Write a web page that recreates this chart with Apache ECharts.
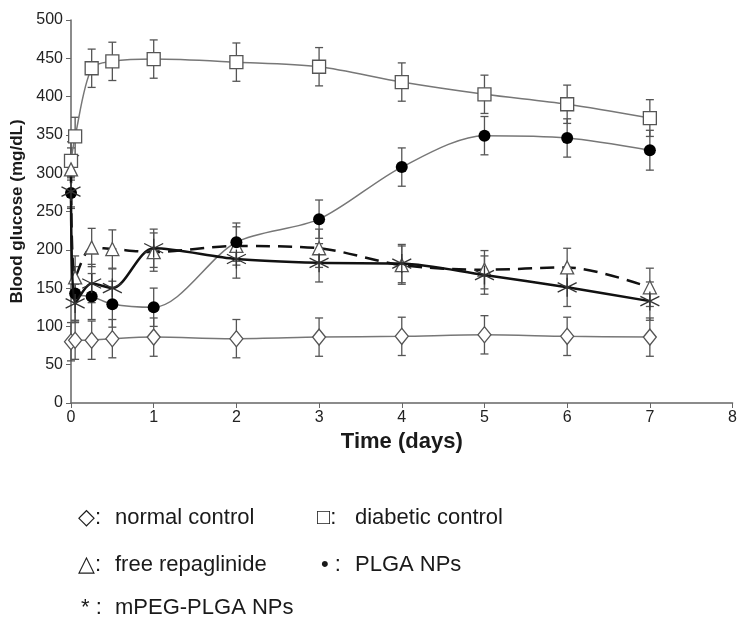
<!DOCTYPE html>
<html>
<head>
<meta charset="utf-8">
<script src="https://cdn.jsdelivr.net/npm/echarts@6/dist/echarts.min.js"></script>
<style>
  html, body { margin: 0; padding: 0; background: #fff; }
  #chart { width: 740px; height: 627px; }
</style>
</head>
<body>
<div id="chart"></div>
<script>
// time points (days)
const days = [0, 0.05, 0.25, 0.5, 1, 2, 3, 4, 5, 6, 7];

// blood glucose (mg/dL)
const normalControl = [80, 82, 82, 84, 86, 84, 86, 87, 89, 87, 86];
const diabeticControl = [316, 348, 437, 446, 449, 445, 439, 419, 403, 390, 372];
const freeRepaglinide = [305, 164, 203, 201, 197, 205, 202, 180, 174, 177, 151];
const plgaNPs = [274, 143, 139, 129, 125, 210, 240, 308, 349, 346, 330];
const mpegNPs = [276, 130, 156, 150, 202, 188, 183, 182, 167, 151, 133];

// error (+/-)
const normalErr = [25, 25, 25, 25, 25, 25, 25, 25, 25, 25, 25];
const diabeticErr = [25, 25, 25, 25, 25, 25, 25, 25, 25, 25, 24];
const freeErr = [28, 28, 25, 25, 25, 25, 25, 25, 25, 25, 25];
const plgaErr = [20, 35, 30, 30, 25, 25, 25, 25, 25, 25, 26];
const mpegErr = [20, 25, 25, 25, 25, 25, 25, 25, 25, 25, 25];

const yTicks = [0, 50, 100, 150, 200, 250, 300, 350, 400, 450, 500];
const xTicks = [0, 1, 2, 3, 4, 5, 6, 7, 8];

// legend: [symbol, label] per row, two columns
const legendSymbols = [['\u25C7:', '\u25A1:'], ['\u25B3:', '\u2022 :'], ['* :', '']];
const legendLabels = [['normal control', 'diabetic control'], ['free repaglinide', 'PLGA NPs'], ['mPEG-PLGA NPs', '']];

const asterisk = 'path://M0,-10L0,10M-8.7,-5L8.7,5M-8.7,5L8.7,-5';

function pts(vals) {
  return days.map((d, i) => [d, vals[i]]);
}
function errData(vals, err) {
  return days.map((d, i) => [d, vals[i] - err[i], vals[i] + err[i]]);
}

function errSeries(vals, err, color) {
  return {
    type: 'custom',
    z: 1,
    silent: true,
    data: errData(vals, err),
    renderItem: function (params, api) {
      const x = api.value(0);
      const lo = api.coord([x, api.value(1)]);
      const hi = api.coord([x, api.value(2)]);
      const w = 4;
      const style = { stroke: color, lineWidth: 1.3 };
      return {
        type: 'group',
        children: [
          { type: 'line', shape: { x1: lo[0], y1: lo[1], x2: hi[0], y2: hi[1] }, style: style },
          { type: 'line', shape: { x1: lo[0] - w, y1: lo[1], x2: lo[0] + w, y2: lo[1] }, style: style },
          { type: 'line', shape: { x1: hi[0] - w, y1: hi[1], x2: hi[0] + w, y2: hi[1] }, style: style }
        ]
      };
    }
  };
}

const chart = echarts.init(document.getElementById('chart'));

const legendFont = '22px "Liberation Sans", Arial, sans-serif';
const legendGraphics = [];
const symX = [78, 317];
const labX = [115, 355];
const rowTop = [507, 554, 597];
legendSymbols.forEach((row, r) => {
  row.forEach((sym, c) => {
    if (!sym) return;
    legendGraphics.push({
      type: 'text', left: symX[c] + (sym.startsWith('\u2022') ? 4 : 0) + (sym.startsWith('*') ? 3 : 0), top: rowTop[r],
      style: { text: sym, font: legendFont, fill: '#1a1a1a' }
    });
    legendGraphics.push({
      type: 'text', left: labX[c], top: rowTop[r],
      style: { text: legendLabels[r][c], font: legendFont, fill: '#1a1a1a' }
    });
  });
});

const option = {
  animation: false,
  backgroundColor: '#fff',
  grid: { left: 71, right: 5, top: 20, bottom: 224 },
  xAxis: {
    type: 'value',
    min: 0,
    max: 8,
    interval: 1,
    name: 'Time (days)',
    nameLocation: 'middle',
    nameGap: 28,
    nameTextStyle: { fontSize: 22, fontWeight: 'bold', color: '#1a1a1a', fontFamily: 'Liberation Sans' },
    axisLine: { lineStyle: { color: '#666', width: 1.5 } },
    axisTick: { show: true, length: 5, inside: false, lineStyle: { color: '#666' } },
    axisLabel: {
      fontSize: 16, color: '#222', margin: 7, fontFamily: 'Liberation Sans',
      formatter: v => xTicks.includes(v) ? String(v) : ''
    },
    splitLine: { show: false }
  },
  yAxis: {
    type: 'value',
    min: 0,
    max: 500,
    interval: 50,
    name: 'Blood glucose (mg/dL)',
    nameLocation: 'middle',
    nameGap: 41,
    nameTextStyle: { fontSize: 17, fontWeight: 'bold', color: '#1a1a1a', fontFamily: 'Liberation Sans' },
    axisLine: { show: true, lineStyle: { color: '#666', width: 1.5 } },
    axisTick: { show: true, length: 5, lineStyle: { color: '#666' } },
    axisLabel: {
      fontSize: 16, color: '#222', margin: 8, fontFamily: 'Liberation Sans',
      formatter: v => yTicks.includes(v) ? String(v) : ''
    },
    splitLine: { show: false }
  },
  graphic: legendGraphics,
  series: [
    errSeries(normalControl, normalErr, '#555'),
    errSeries(diabeticControl, diabeticErr, '#555'),
    errSeries(freeRepaglinide, freeErr, '#555'),
    errSeries(plgaNPs, plgaErr, '#555'),
    errSeries(mpegNPs, mpegErr, '#555'),
    {
      name: 'normal control',
      type: 'line',
      smooth: 0.3,
      z: 3,
      data: pts(normalControl),
      symbol: 'diamond',
      symbolSize: [13, 16],
      lineStyle: { color: '#777', width: 1.5 },
      itemStyle: { color: '#fff', borderColor: '#555', borderWidth: 1.3 }
    },
    {
      name: 'diabetic control',
      type: 'line',
      smooth: 0.3,
      z: 3,
      data: pts(diabeticControl),
      symbol: 'rect',
      symbolSize: 13,
      lineStyle: { color: '#777', width: 1.5 },
      itemStyle: { color: '#fff', borderColor: '#555', borderWidth: 1.3 }
    },
    {
      name: 'free repaglinide',
      type: 'line',
      smooth: 0.3,
      z: 4,
      data: pts(freeRepaglinide),
      symbol: 'triangle',
      symbolSize: 13,
      lineStyle: { color: '#111', width: 2.5, type: [14, 8] },
      itemStyle: { color: '#fff', borderColor: '#555', borderWidth: 1.3 }
    },
    {
      name: 'PLGA NPs',
      type: 'line',
      smooth: 0.3,
      z: 4,
      data: pts(plgaNPs),
      symbol: 'circle',
      symbolSize: 12,
      lineStyle: { color: '#777', width: 1.5 },
      itemStyle: { color: '#000', borderColor: '#000', borderWidth: 0 }
    },
    {
      name: 'mPEG-PLGA NPs',
      type: 'line',
      smooth: 0.3,
      z: 5,
      data: pts(mpegNPs),
      symbol: asterisk,
      symbolSize: 19,
      lineStyle: { color: '#111', width: 2.5 },
      itemStyle: { color: 'transparent', borderColor: '#333', borderWidth: 1.3 }
    }
  ]
};

chart.setOption(option);
</script>
</body>
</html>
